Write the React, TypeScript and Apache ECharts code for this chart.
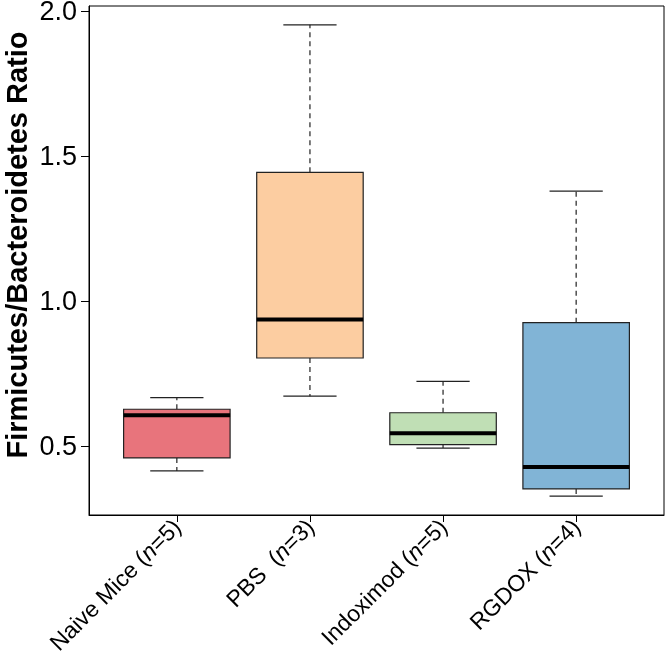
import React, { useEffect, useRef } from "react";
import * as echarts from "echarts";

const categories = ["Naive Mice (n=5)", "PBS  (n=3)", "Indoximod (n=5)", "RGDOX (n=4)"];
const lowWhisker = [0.413, 0.671, 0.492, 0.326];
const q1Values = [0.458, 0.803, 0.504, 0.351];
const medianValues = [0.605, 0.936, 0.543, 0.427];
const q3Values = [0.626, 1.444, 0.614, 0.925];
const highWhisker = [0.666, 1.953, 0.722, 1.379];
const boxColors = ["#E8747C", "#FCCDA1", "#C0DFB5", "#81B4D6"];
const yTicks = [0.5, 1.0, 1.5, 2.0];
const xTicks = [1, 2, 3, 4];

export default function App() {
  const ref = useRef<HTMLDivElement>(null);
  useEffect(() => {
    if (!ref.current) return;
    const chart = echarts.init(ref.current, undefined, { renderer: "svg" });
    const data = categories.map((_, i) => [
      i + 1,
      lowWhisker[i],
      q1Values[i],
      medianValues[i],
      q3Values[i],
      highWhisker[i],
    ]);
    const font = "'Liberation Sans', Arial, Helvetica, sans-serif";
    chart.setOption({
      animation: false,
      grid: {
        left: 89,
        top: 6,
        right: 2,
        bottom: 140,
        outerBoundsMode: "none",
        containLabel: false,
        show: true,
        borderColor: "#000",
        borderWidth: 1,
        backgroundColor: "transparent",
      },
      xAxis: {
        type: "value",
        min: 0.34,
        max: 4.66,
        splitLine: { show: false },
        axisLine: { show: true, lineStyle: { color: "#000", width: 1 } },
        axisTick: { show: true, customValues: xTicks, length: 7, lineStyle: { color: "#000" } },
        axisLabel: {
          customValues: xTicks,
          rotate: 45,
          margin: 8,
          fontSize: 23,
          fontFamily: font,
          color: "#000",
          rich: {
            i: { fontSize: 23, fontFamily: font, fontStyle: "italic", color: "#000" },
          },
          formatter: (v: number) => {
            const name = categories[Math.round(v) - 1] ?? "";
            return name.replace("(n=", "({i|n}=");
          },
        },
      },
      yAxis: {
        type: "value",
        min: 0.261,
        max: 2.018,
        splitLine: { show: false },
        axisLine: { show: true, lineStyle: { color: "#000", width: 1 } },
        axisTick: { show: true, customValues: yTicks, length: 8, lineStyle: { color: "#000" } },
        axisLabel: {
          customValues: yTicks,
          margin: 12,
          fontSize: 27,
          lineHeight: 20,
          fontFamily: font,
          color: "#000",
          formatter: (v: number) => v.toFixed(1),
        },
      },
      graphic: [
        {
          type: "text",
          x: 17,
          y: 245,
          rotation: Math.PI / 2,
          style: {
            text: "Firmicutes/Bacteroidetes Ratio",
            fontSize: 29,
            fontWeight: "bold",
            fontFamily: font,
            fill: "#000",
            textAlign: "center",
            textVerticalAlign: "middle",
          },
        },
      ],
      series: [
        {
          type: "custom",
          data,
          clip: false,
          renderItem: (params: any, api: any) => {
            const x = api.value(0);
            const idx = params.dataIndex;
            const lo = api.coord([x, api.value(1)]);
            const q1 = api.coord([x, api.value(2)]);
            const md = api.coord([x, api.value(3)]);
            const q3 = api.coord([x, api.value(4)]);
            const hi = api.coord([x, api.value(5)]);
            const left = api.coord([x - 0.4, 0])[0];
            const right = api.coord([x + 0.4, 0])[0];
            const capL = api.coord([x - 0.2, 0])[0];
            const capR = api.coord([x + 0.2, 0])[0];
            const cx = lo[0];
            const dashStyle = { stroke: "#222", lineWidth: 1.2, lineDash: [5, 4] };
            const solid = { stroke: "#222", lineWidth: 1.2 };
            return {
              type: "group",
              children: [
                { type: "line", shape: { x1: cx, y1: q1[1], x2: cx, y2: lo[1] }, style: dashStyle },
                { type: "line", shape: { x1: cx, y1: q3[1], x2: cx, y2: hi[1] }, style: dashStyle },
                { type: "line", shape: { x1: capL, y1: lo[1], x2: capR, y2: lo[1] }, style: solid },
                { type: "line", shape: { x1: capL, y1: hi[1], x2: capR, y2: hi[1] }, style: solid },
                {
                  type: "rect",
                  shape: { x: left, y: q3[1], width: right - left, height: q1[1] - q3[1] },
                  style: { fill: boxColors[idx], stroke: "#222", lineWidth: 1.2 },
                },
                {
                  type: "line",
                  shape: { x1: left, y1: md[1], x2: right, y2: md[1] },
                  style: { stroke: "#000", lineWidth: 4 },
                },
              ],
            };
          },
        },
      ],
    });
    return () => chart.dispose();
  }, []);
  return (
    <div
      ref={ref}
      style={{ position: "fixed", left: 0, top: 0, width: 666, height: 655 }}
    />
  );
}
